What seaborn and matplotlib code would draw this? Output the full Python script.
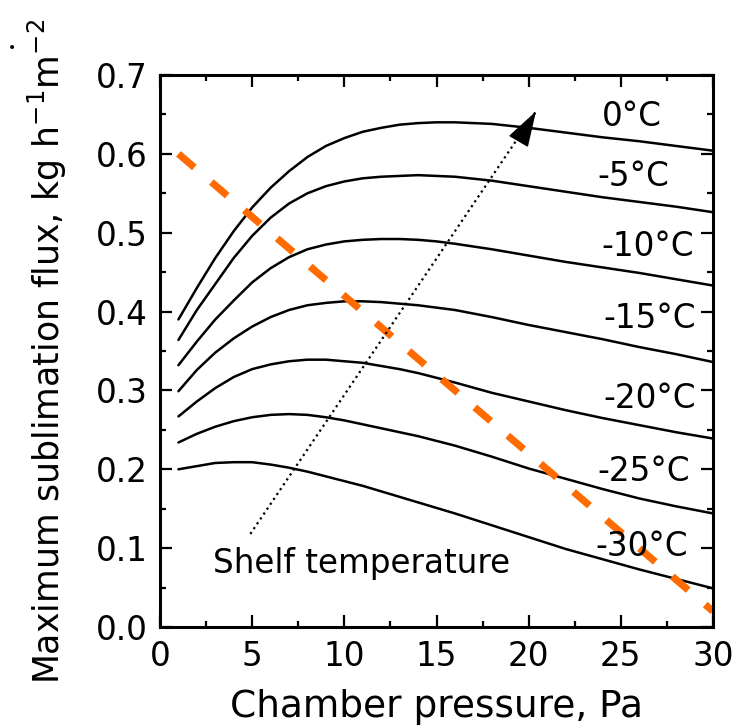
import matplotlib
matplotlib.use('Agg')
import matplotlib.pyplot as plt
import seaborn as sns
import pandas as pd
from matplotlib.ticker import MultipleLocator

# chamber pressure grid (Pa)
pressure = [1, 2, 3, 4, 5, 6, 7, 8, 9, 10, 11, 12, 13, 14, 15, 16, 18, 20, 22, 24, 26, 28, 30]

# maximum sublimation flux (kg h-1 m-2) per shelf temperature
flux_0 = [0.390, 0.430, 0.468, 0.502, 0.532, 0.557, 0.578, 0.596, 0.610, 0.620, 0.628,
          0.633, 0.637, 0.639, 0.640, 0.640, 0.638, 0.633, 0.627, 0.621, 0.616, 0.610, 0.604]
flux_m5 = [0.364, 0.402, 0.435, 0.468, 0.496, 0.519, 0.537, 0.550, 0.559, 0.565, 0.569,
           0.571, 0.572, 0.573, 0.572, 0.571, 0.566, 0.559, 0.552, 0.545, 0.539, 0.533, 0.526]
flux_m10 = [0.332, 0.362, 0.390, 0.414, 0.437, 0.455, 0.469, 0.479, 0.485, 0.489, 0.491,
            0.492, 0.492, 0.491, 0.489, 0.486, 0.479, 0.471, 0.463, 0.456, 0.449, 0.441, 0.433]
flux_m15 = [0.299, 0.326, 0.348, 0.366, 0.381, 0.393, 0.402, 0.408, 0.411, 0.413, 0.413,
            0.412, 0.410, 0.408, 0.405, 0.402, 0.393, 0.383, 0.374, 0.365, 0.355, 0.346, 0.336]
flux_m20 = [0.267, 0.286, 0.303, 0.317, 0.327, 0.333, 0.337, 0.339, 0.339, 0.337, 0.335,
            0.331, 0.327, 0.322, 0.316, 0.310, 0.297, 0.286, 0.275, 0.265, 0.256, 0.247, 0.239]
flux_m25 = [0.234, 0.245, 0.254, 0.261, 0.266, 0.269, 0.270, 0.269, 0.266, 0.262, 0.257,
            0.252, 0.247, 0.242, 0.236, 0.230, 0.216, 0.201, 0.188, 0.175, 0.163, 0.153, 0.144]
flux_m30 = [0.200, 0.204, 0.208, 0.209, 0.209, 0.206, 0.202, 0.197, 0.191, 0.185, 0.179,
            0.172, 0.165, 0.158, 0.151, 0.144, 0.129, 0.114, 0.099, 0.086, 0.073, 0.061, 0.049]

temps = ['0°C', '-5°C', '-10°C', '-15°C', '-20°C', '-25°C', '-30°C']
all_flux = [flux_0, flux_m5, flux_m10, flux_m15, flux_m20, flux_m25, flux_m30]

# choked flow limit line
limit_p = [1, 30]
limit_flux = [0.60, 0.02]

# shelf temperature arrow (start, end)
arrow_p = [4.9, 20.4]
arrow_flux = [0.118, 0.654]

# label placement
label_x = [23.95, 23.75, 23.95, 24.05, 24.05, 23.75, 23.6]
label_y = [0.647, 0.571, 0.482, 0.391, 0.290, 0.197, 0.102]

rows = []
for t, f in zip(temps, all_flux):
    for p, v in zip(pressure, f):
        rows.append({'pressure': p, 'flux': v, 'temp': t})
df = pd.DataFrame(rows)

sns.set_style('ticks')
plt.rcParams['font.family'] = ['DejaVu Sans']
plt.rcParams['mathtext.default'] = 'regular'
plt.rcParams['text.color'] = 'black'
plt.rcParams['axes.labelcolor'] = 'black'
plt.rcParams['xtick.color'] = 'black'
plt.rcParams['ytick.color'] = 'black'
plt.rcParams['axes.edgecolor'] = 'black'

fig = plt.figure(figsize=(7.48, 7.28), dpi=100)
ax = fig.add_axes([160 / 748, 1 - 627 / 728, 553 / 748, 552 / 728])

sns.lineplot(data=df, x='pressure', y='flux', hue='temp', hue_order=temps,
             palette={t: 'black' for t in temps}, linewidth=1.8, legend=False, ax=ax)

ax.plot(limit_p, limit_flux, color='#ff6b00', linewidth=5.2, dashes=(2.9, 3.1),
        solid_capstyle='butt', dash_capstyle='butt')

ax.plot(arrow_p, arrow_flux, color='black', linestyle=':', linewidth=1.6)
ax.annotate('', xy=(arrow_p[1], arrow_flux[1]), xytext=(19.9, 0.634),
            arrowprops=dict(arrowstyle='-|>,head_length=1.15,head_width=0.36',
                            color='black', linewidth=1, mutation_scale=20,
                            shrinkA=0, shrinkB=0))

for t, lx, ly in zip(temps, label_x, label_y):
    ax.text(lx, ly, t, fontsize=23.5, ha='left', va='center')

ax.text(2.88, 0.0684, 'Shelf temperature', fontsize=23.5, ha='left', va='baseline')

ax.set_xlim(0, 30)
ax.set_ylim(0, 0.7)
ax.xaxis.set_major_locator(MultipleLocator(5))
ax.xaxis.set_minor_locator(MultipleLocator(2.5))
ax.yaxis.set_major_locator(MultipleLocator(0.1))
ax.yaxis.set_minor_locator(MultipleLocator(0.05))
ax.yaxis.set_major_formatter(plt.FormatStrFormatter('%.1f'))

ax.tick_params(which='both', direction='in', top=True, right=True, width=1.6,
               labelsize=23.5)
ax.tick_params(which='major', length=8.5, pad=9)
ax.tick_params(which='minor', length=4.5)
for s in ax.spines.values():
    s.set_linewidth(2.2)

ax.set_xlabel('Chamber pressure, Pa', fontsize=27, labelpad=12)
ax.set_ylabel('Maximum sublimation flux, kg h$^{-1}$m$^{-2}$', fontsize=25, labelpad=19)

fig.text(12 / 748, 1 - 48 / 728, '•', fontsize=10, ha='center', va='center')

fig.savefig('out.png', dpi=100)
